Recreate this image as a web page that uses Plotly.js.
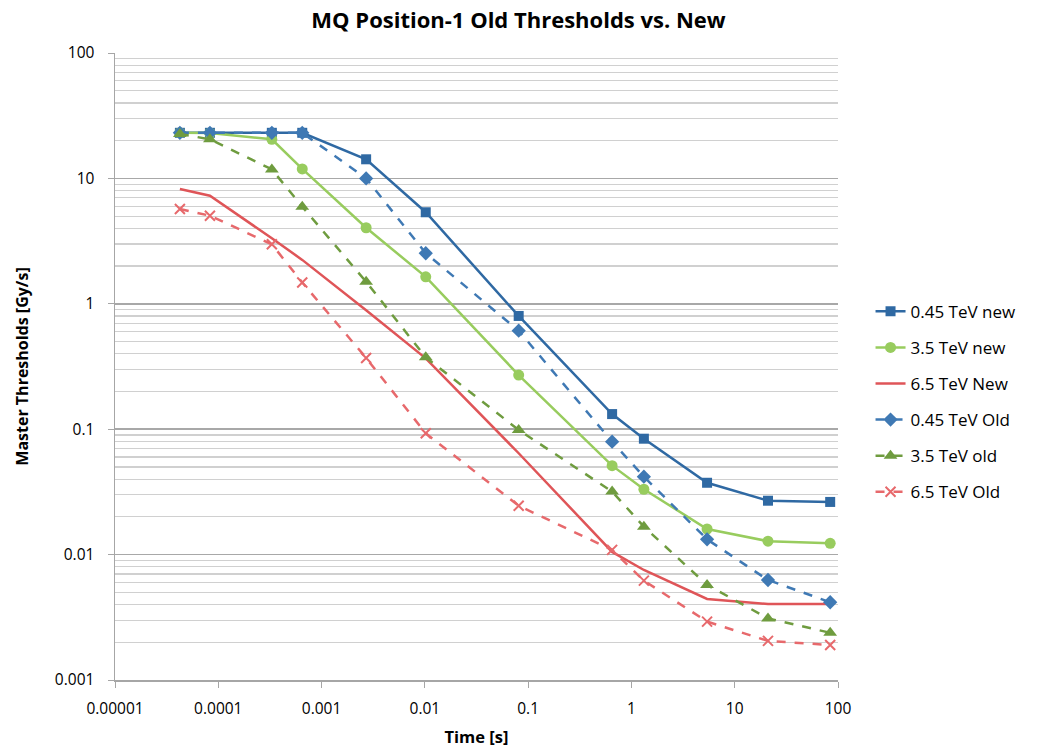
<!DOCTYPE html>
<html>
<head>
<meta charset="utf-8">
<script src="https://cdn.plot.ly/plotly-3.0.1.min.js"></script>
<style>html,body{margin:0;padding:0;background:#fff;}#chart{width:1037px;height:748px;}</style>
</head>
<body>
<div id="chart"></div>
<script>
const time = [0.0000425, 0.000083, 0.00033, 0.00065, 0.0027, 0.0102, 0.081, 0.65, 1.32, 5.4, 21, 84];

const new045 = [23.1, 23.1, 23.1, 23.1, 14.2, 5.37, 0.80, 0.132, 0.084, 0.0374, 0.0269, 0.0263];
const new35  = [23.1, 23.0, 20.5, 11.9, 4.04, 1.64, 0.270, 0.0512, 0.0332, 0.0160, 0.0128, 0.0123];
const new65  = [8.23, 7.28, 3.33, 2.24, 0.89, 0.367, 0.0643, 0.0105, 0.00754, 0.00443, 0.00404, 0.00404];
const old045 = [23.1, 23.1, 23.1, 23.1, 10.0, 2.53, 0.61, 0.0795, 0.0418, 0.01324, 0.00627, 0.00417];
const old35  = [22.6, 20.5, 11.8, 5.95, 1.50, 0.374, 0.0986, 0.0318, 0.0167, 0.00573, 0.0031, 0.00238];
const old65  = [5.70, 5.04, 2.98, 1.48, 0.37, 0.0927, 0.0245, 0.0109, 0.0062, 0.00292, 0.00205, 0.0019];

const names = ["0.45 TeV new", "3.5 TeV new", "6.5 TeV New", "0.45 TeV Old", "3.5 TeV old", "6.5 TeV Old"];
const xTickVals = [0.00001, 0.0001, 0.001, 0.01, 0.1, 1, 10, 100];
const xTickText = ["0.00001", "0.0001", "0.001", "0.01", "0.1", "1", "10", "100"];
const yTickVals = [0.001, 0.01, 0.1, 1, 10, 100];
const yTickText = ["0.001", "0.01", "0.1", "1", "10", "100"];

function tr(y, i, color, dash, symbol, msize, showMarker) {
  return {
    x: time, y: y, name: names[i], type: 'scatter',
    mode: showMarker ? 'lines+markers' : 'lines',
    legendgroup: 'g' + i,
    line: {color: color, width: 2.5, dash: dash},
    marker: symbol.indexOf('x') === 0
      ? {symbol: symbol, size: msize, color: color, line: {color: color, width: 2}}
      : {symbol: symbol, size: msize, color: color}
  };
}

const data = [
  tr(new045, 0, '#2f69a3', 'solid', 'square', 10, true),
  tr(new35, 1, '#98cc5e', 'solid', 'circle', 11, true),
  tr(new65, 2, '#df5558', 'solid', 'circle', 1, false),
  tr(old045, 3, '#3f79b4', 'dash', 'diamond', 11, true),
  tr(old35, 4, '#6f9c3f', 'dash', 'triangle-up', 12, true),
  tr(old65, 5, '#e7696c', 'dash', 'x-thin', 10, true)
];

const layout = {
  width: 1037, height: 748,
  margin: {l: 115, r: 199, t: 53, b: 68},
  paper_bgcolor: '#fff', plot_bgcolor: '#fff',
  font: {family: 'Open Sans, Liberation Sans, sans-serif', color: '#000'},
  title: {text: '<b>MQ Position-1 Old Thresholds vs. New</b>', x: 0.5, xref: 'container', xanchor: 'center',
          y: 0.973, yanchor: 'middle',
          font: {size: 22, color: '#000'}},
  xaxis: {
    type: 'log', range: [-5, 2],
    tickvals: xTickVals, ticktext: xTickText,
    showgrid: false, zeroline: false,
    showline: true, linecolor: '#a6a6a6', linewidth: 1.5,
    ticks: 'outside', ticklen: 6, tickcolor: '#a6a6a6',
    ticklabelstandoff: 8,
    tickfont: {size: 15.5},
    title: {text: '<b>Time [s]</b>', font: {size: 16.5}, standoff: 13}
  },
  yaxis: {
    type: 'log', range: [-3, 2],
    tickvals: yTickVals, ticktext: yTickText,
    showgrid: true, gridcolor: '#a8a8a8', gridwidth: 1.5,
    zeroline: false,
    showline: true, linecolor: '#a6a6a6', linewidth: 1.5,
    ticks: 'outside', ticklen: 6, tickcolor: '#a6a6a6',
    ticklabelstandoff: 10,
    tickfont: {size: 15.5},
    minor: {showgrid: true, gridcolor: '#d0d0d0', gridwidth: 1.2, dtick: 'D1', ticks: ''},
    title: {text: '<b>Master Thresholds [Gy/s]</b>', font: {size: 16}, standoff: 22}
  },
  legend: {
    x: 1.045, xanchor: 'left', y: 0.616, yanchor: 'top',
    font: {size: 17, color: '#000'},
    tracegroupgap: 11, itemwidth: 30,
    bgcolor: 'rgba(0,0,0,0)'
  },
  showlegend: true
};

Plotly.newPlot('chart', data, layout, {displayModeBar: false, staticPlot: true});
</script>
</body>
</html>
